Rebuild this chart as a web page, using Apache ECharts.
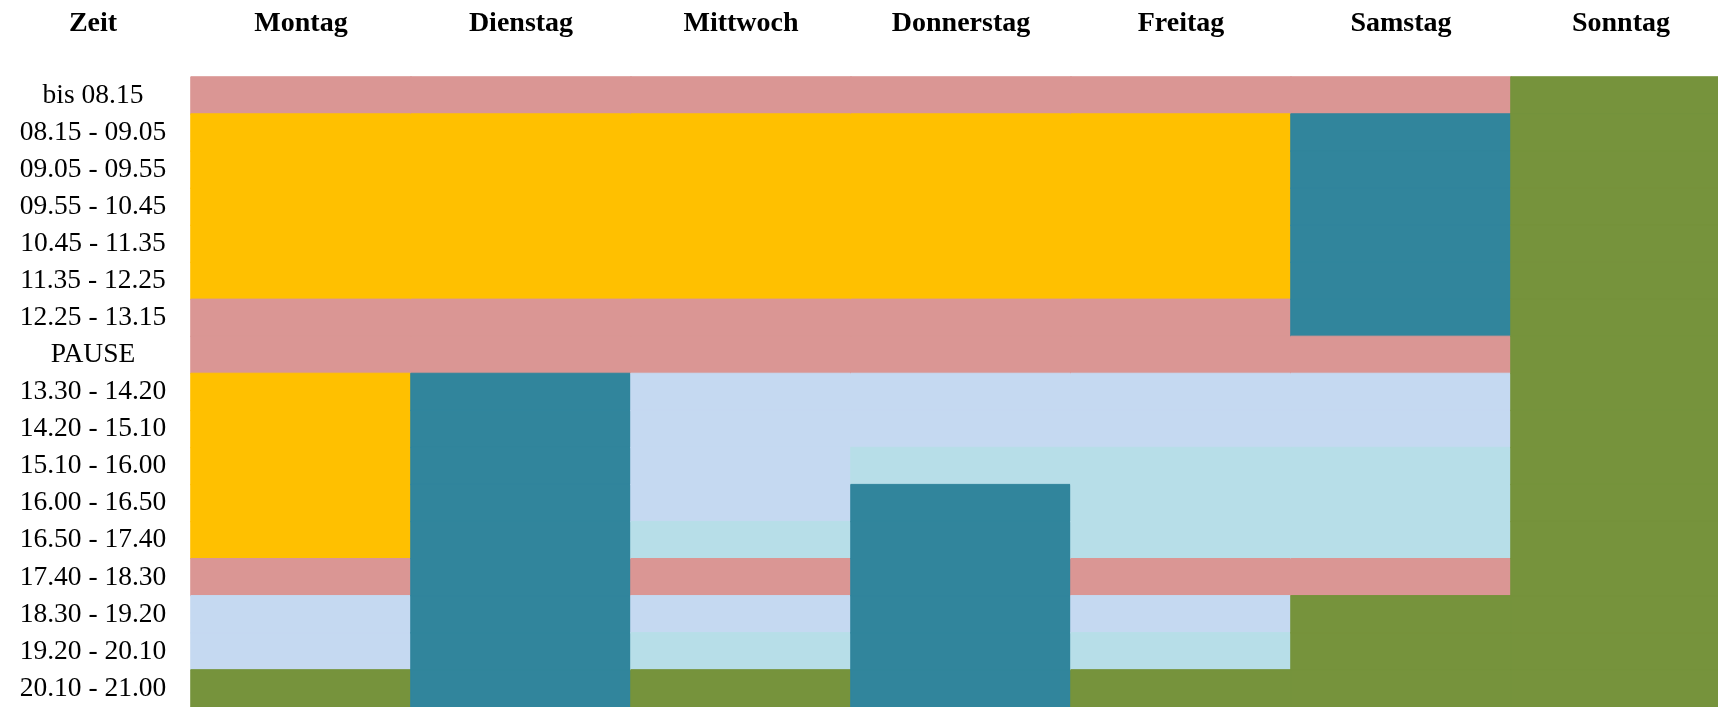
<!DOCTYPE html>
<html>
<head>
<meta charset="utf-8">
<script src="https://cdn.jsdelivr.net/npm/echarts@6/dist/echarts.min.js"></script>
<style>
    html, body { margin: 0; padding: 0; background: #fff; }
    #chart { width: 1718px; height: 707px; }
</style>
</head>
<body>
<div id="chart"></div>
<script>
    // Wochentage (Spalten) und Zeitfenster (Zeilen)
    var days = ['Montag', 'Dienstag', 'Mittwoch', 'Donnerstag', 'Freitag', 'Samstag', 'Sonntag'];
    var slots = ['bis 08.15', '08.15 - 09.05', '09.05 - 09.55', '09.55 - 10.45', '10.45 - 11.35',
        '11.35 - 12.25', '12.25 - 13.15', 'PAUSE', '13.30 - 14.20', '14.20 - 15.10', '15.10 - 16.00',
        '16.00 - 16.50', '16.50 - 17.40', '17.40 - 18.30', '18.30 - 19.20', '19.20 - 20.10', '20.10 - 21.00'];

    // Belegung je Tag, eine Kennung pro Zeitfenster
    // P = rosa, Y = gelb, T = petrol, B = hellblau, C = hellcyan, G = grün
    var montag     = ['P','Y','Y','Y','Y','Y','P','P','Y','Y','Y','Y','Y','P','B','B','G'];
    var dienstag   = ['P','Y','Y','Y','Y','Y','P','P','T','T','T','T','T','T','T','T','T'];
    var mittwoch   = ['P','Y','Y','Y','Y','Y','P','P','B','B','B','B','C','P','B','C','G'];
    var donnerstag = ['P','Y','Y','Y','Y','Y','P','P','B','B','C','T','T','T','T','T','T'];
    var freitag    = ['P','Y','Y','Y','Y','Y','P','P','B','B','C','C','C','P','B','C','G'];
    var samstag    = ['P','T','T','T','T','T','T','P','B','B','C','C','C','P','G','G','G'];
    var sonntag    = ['G','G','G','G','G','G','G','G','G','G','G','G','G','G','G','G','G'];

    var codes = ['P', 'Y', 'T', 'B', 'C', 'G'];
    var colors = {P: '#DA9694', Y: '#FFC000', T: '#31859C', B: '#C5D9F1', C: '#B7DEE8', G: '#76933C'};

    var week = [montag, dienstag, mittwoch, donnerstag, freitag, samstag, sonntag];
    var cells = [];
    week.forEach(function (col, x) {
        col.forEach(function (c, y) {
            cells.push({
                value: [x, y, codes.indexOf(c)],
                itemStyle: {color: colors[c], borderColor: colors[c], borderWidth: 1}
            });
        });
    });

    var font = '"Liberation Serif", "Times New Roman", serif';
    var myChart = echarts.init(document.getElementById('chart'));
    var option = {
        animation: false,
        backgroundColor: '#fff',
        grid: {
            left: 191,
            top: 77,
            width: 1540,
            height: 630,
            outerBoundsMode: 'none'
        },
        graphic: [{
            type: 'text',
            x: 93,
            y: 24,
            style: {
                text: 'Zeit',
                fontFamily: font,
                fontSize: 28,
                fontWeight: 'bold',
                fill: '#000',
                textAlign: 'center',
                textVerticalAlign: 'middle'
            }
        }],
        xAxis: {
            type: 'category',
            position: 'top',
            data: days,
            axisLine: {show: false},
            axisTick: {show: false},
            splitLine: {show: false},
            axisLabel: {
                fontFamily: font,
                fontSize: 28,
                fontWeight: 'bold',
                color: '#000',
                verticalAlign: 'middle',
                margin: 53,
                interval: 0
            }
        },
        yAxis: {
            type: 'category',
            inverse: true,
            data: slots,
            axisLine: {show: false},
            axisTick: {show: false},
            splitLine: {show: false},
            axisLabel: {
                fontFamily: font,
                fontSize: 27.5,
                color: '#000',
                align: 'center',
                margin: 98,
                interval: 0
            }
        },
        series: [{
            type: 'heatmap',
            data: cells,
            emphasis: {disabled: true}
        }]
    };
    myChart.setOption(option);
</script>
</body>
</html>
